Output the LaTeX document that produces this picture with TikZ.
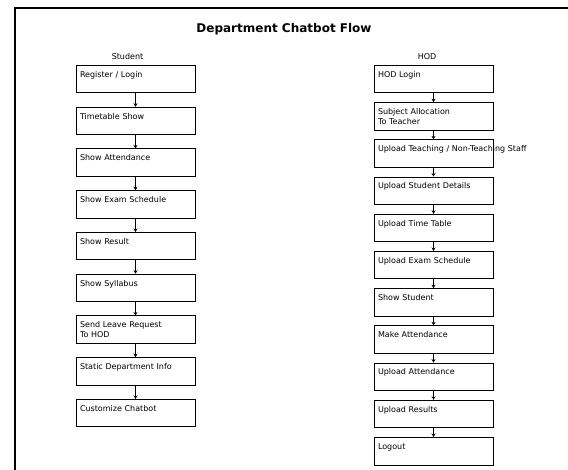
\documentclass[tikz,border=0pt]{standalone}
\usepackage{fontspec}
\setmainfont{DejaVu Sans}
\usetikzlibrary{arrows.meta,calc}

\tikzset{
	flowbox/.style={draw, line width=0.7pt, rectangle, anchor=north,
		minimum width=119pt, minimum height=27.5pt, text width=111pt, align=left,
		inner xsep=4pt, inner ysep=3pt, text height=9pt, text depth=12.5pt,
		font=\fontsize{8}{10}\selectfont},
	flowarrow/.style={-{Stealth[length=3.5pt,width=4pt]}, line width=0.6pt},
	colhead/.style={anchor=base, font=\fontsize{8}{10}\selectfont}
}

\begin{document}
\begin{tikzpicture}[x=1pt,y=1pt]
		\useasboundingbox (0,0) rectangle (568,-470);
		\draw[line width=1.6pt] (15,-520) -- (15,-8) -- (620,-8);
		\node[anchor=base, font=\fontsize{12}{14}\selectfont\bfseries] (Title) at (284,-32.5) {Department Chatbot Flow};

		\begin{scope}
			\coordinate (student) at (135.5,0);
			\node[colhead] (StHead) at ($(student) + (-8,-59.5)$) {Student};

			\node[flowbox] (StLogin) at ($(student) + (0,-65)$) {Register / Login};
			\node[flowbox] (StTimetable) at ($(student) + (0,-106.75)$) {Timetable Show};
			\node[flowbox] (StAttendance) at ($(student) + (0,-148.5)$) {Show Attendance};
			\node[flowbox] (StExam) at ($(student) + (0,-190.25)$) {Show Exam Schedule};
			\node[flowbox] (StResult) at ($(student) + (0,-232)$) {Show Result};
			\node[flowbox] (StSyllabus) at ($(student) + (0,-273.75)$) {Show Syllabus};
			\node[flowbox] (StLeave) at ($(student) + (0,-315.5)$) {Send Leave Request\\To HOD};
			\node[flowbox] (StInfo) at ($(student) + (0,-357.25)$) {Static Department Info};
			\node[flowbox] (StCustom) at ($(student) + (0,-399)$) {Customize Chatbot};

			\draw[flowarrow] (StLogin) -- (StTimetable);
			\draw[flowarrow] (StTimetable) -- (StAttendance);
			\draw[flowarrow] (StAttendance) -- (StExam);
			\draw[flowarrow] (StExam) -- (StResult);
			\draw[flowarrow] (StResult) -- (StSyllabus);
			\draw[flowarrow] (StSyllabus) -- (StLeave);
			\draw[flowarrow] (StLeave) -- (StInfo);
			\draw[flowarrow] (StInfo) -- (StCustom);
		\end{scope}

		\begin{scope}
			\coordinate (hod) at (433.5,0);
			\node[colhead] (HodHead) at ($(hod) + (-6.5,-59.5)$) {HOD};

			\node[flowbox] (HodLogin) at ($(hod) + (0,-65)$) {HOD Login};
			\node[flowbox] (HodSubject) at ($(hod) + (0,-102.2)$) {Subject Allocation\\To Teacher};
			\node[flowbox] (HodStaff) at ($(hod) + (0,-139.4)$) {\mbox{Upload Teaching / Non-Teaching Staff}};
			\node[flowbox] (HodDetails) at ($(hod) + (0,-176.6)$) {Upload Student Details};
			\node[flowbox] (HodTimeTable) at ($(hod) + (0,-213.8)$) {Upload Time Table};
			\node[flowbox] (HodExam) at ($(hod) + (0,-251)$) {Upload Exam Schedule};
			\node[flowbox] (HodShow) at ($(hod) + (0,-288.2)$) {Show Student};
			\node[flowbox] (HodMake) at ($(hod) + (0,-325.4)$) {Make Attendance};
			\node[flowbox] (HodAttendance) at ($(hod) + (0,-362.6)$) {Upload Attendance};
			\node[flowbox] (HodResults) at ($(hod) + (0,-399.8)$) {Upload Results};
			\node[flowbox] (HodLogout) at ($(hod) + (0,-437)$) {Logout};

			\draw[flowarrow] (HodLogin) -- (HodSubject);
			\draw[flowarrow] (HodSubject) -- (HodStaff);
			\draw[flowarrow] (HodStaff) -- (HodDetails);
			\draw[flowarrow] (HodDetails) -- (HodTimeTable);
			\draw[flowarrow] (HodTimeTable) -- (HodExam);
			\draw[flowarrow] (HodExam) -- (HodShow);
			\draw[flowarrow] (HodShow) -- (HodMake);
			\draw[flowarrow] (HodMake) -- (HodAttendance);
			\draw[flowarrow] (HodAttendance) -- (HodResults);
			\draw[flowarrow] (HodResults) -- (HodLogout);
		\end{scope}
	\end{tikzpicture}
\end{document}
